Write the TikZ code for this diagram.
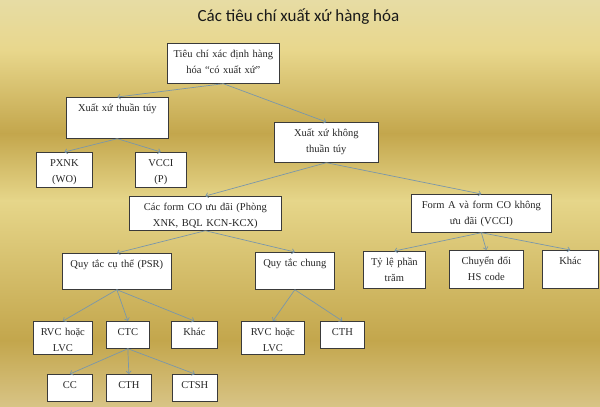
\documentclass[tikz,border=0pt]{standalone}
\usepackage{fontspec}
\setmainfont{Liberation Serif}
\newfontfamily\titlefont{Carlito}
\usetikzlibrary{arrows.meta}

\definecolor{goldpale}{HTML}{E7DCA4}
\definecolor{goldlight}{HTML}{E8D78C}
\definecolor{golddark}{HTML}{C3A64C}
\definecolor{goldmid}{HTML}{E6D68A}
\definecolor{goldlow}{HTML}{D8C486}
\definecolor{boxline}{HTML}{3A3A3A}
\definecolor{linkline}{HTML}{7A97AA}

\tikzset{
	crit/.style 2 args={draw=boxline, line width=0.7pt, fill=white, anchor=north west,
		align=center, inner sep=0pt, text width=#1pt, text height=14.5pt, text depth=#2pt,
		font=\fontsize{10.5}{16}\selectfont, text=black!85},
	link/.style={draw=linkline, line width=0.7pt, -{Straight Barb[length=2.5pt,width=5pt]}}
}

\begin{document}
\begin{tikzpicture}[x=1pt,y=-1pt]
\useasboundingbox (0,0) rectangle (600,407);
	% background
	\shade[top color=goldpale, bottom color=goldlight] (0,0) rectangle (600,51);
	\shade[top color=goldlight, bottom color=golddark] (0,50) rectangle (600,134);
	\shade[top color=golddark, bottom color=goldmid] (0,133) rectangle (600,201);
	\shade[top color=goldmid, bottom color=golddark] (0,200) rectangle (600,341);
	\shade[top color=golddark, bottom color=goldlow] (0,340) rectangle (600,407);

	\node[font=\titlefont\fontsize{17}{20}\selectfont, text=black!90, anchor=base] (title) at (298.5,21.7) {Các tiêu chí xuất xứ hàng hóa};

	\node[crit={112}{25.5}] (root) at (167,43) {Tiêu chí xác định hàng\\hóa “có xuất xứ”};
	\node[crit={102}{26.5}] (thuan) at (66,97) {Xuất xứ thuần túy};
	\node[crit={104}{25.5}] (khong) at (274,122) {Xuất xứ không\\thuần túy};
	\node[crit={56}{20.5}] (pxnk) at (36,152) {PXNK\\(WO)};
	\node[crit={51}{20.5}] (vcci) at (135,152) {VCCI\\(P)};
	\node[crit={152}{19.5}] (formco) at (129,196) {Các form CO ưu đãi (Phòng\\XNK, BQL KCN-KCX)};
	\node[crit={140}{23.5}] (forma) at (411,194) {Form A và form CO không\\ưu đãi (VCCI)};
	\node[crit={109}{21.5}] (psr) at (62,253) {Quy tắc cụ thể (PSR)};
	\node[crit={79}{22.5}] (chung) at (255,252) {Quy tắc chung};
	\node[crit={62}{22.5}] (tyle) at (363,251) {Tỷ lệ phần\\trăm};
	\node[crit={74}{23.5}] (chuyen) at (449,250) {Chuyển đổi\\HS code};
	\node[crit={56}{23.5}] (khacA) at (542,250) {Khác};
	\node[crit={59}{18.5}] (rvcA) at (33,321) {RVC hoặc\\LVC};
	\node[crit={43}{12.5}] (ctc) at (106,321) {CTC};
	\node[crit={46}{12.5}] (khacB) at (171,321) {Khác};
	\node[crit={63}{18.5}] (rvcB) at (241,321) {RVC hoặc\\LVC};
	\node[crit={44}{12.5}] (cthB) at (320,321) {CTH};
	\node[crit={45}{12.5}] (cc) at (47,374) {CC};
	\node[crit={45}{12.5}] (cthA) at (106,374) {CTH};
	\node[crit={45}{12.5}] (ctsh) at (172,374) {CTSH};

	\draw[link] (root.south) -- (thuan.north);
	\draw[link] (root.south) -- (khong.north);
	\draw[link] (thuan.south) -- (pxnk.north);
	\draw[link] (thuan.south) -- (vcci.north);
	\draw[link] (khong.south) -- (formco.north);
	\draw[link] (khong.south) -- (forma.north);
	\draw[link] (formco.south) -- (psr.north);
	\draw[link] (formco.south) -- (chung.north);
	\draw[link] (forma.south) -- (tyle.north);
	\draw[link] (forma.south) -- (chuyen.north);
	\draw[link] (forma.south) -- (khacA.north);
	\draw[link] (psr.south) -- (rvcA.north);
	\draw[link] (psr.south) -- (ctc.north);
	\draw[link] (psr.south) -- (khacB.north);
	\draw[link] (chung.south) -- (rvcB.north);
	\draw[link] (chung.south) -- (cthB.north);
	\draw[link] (ctc.south) -- (cc.north);
	\draw[link] (ctc.south) -- (cthA.north);
	\draw[link] (ctc.south) -- (ctsh.north);
\end{tikzpicture}
\end{document}
